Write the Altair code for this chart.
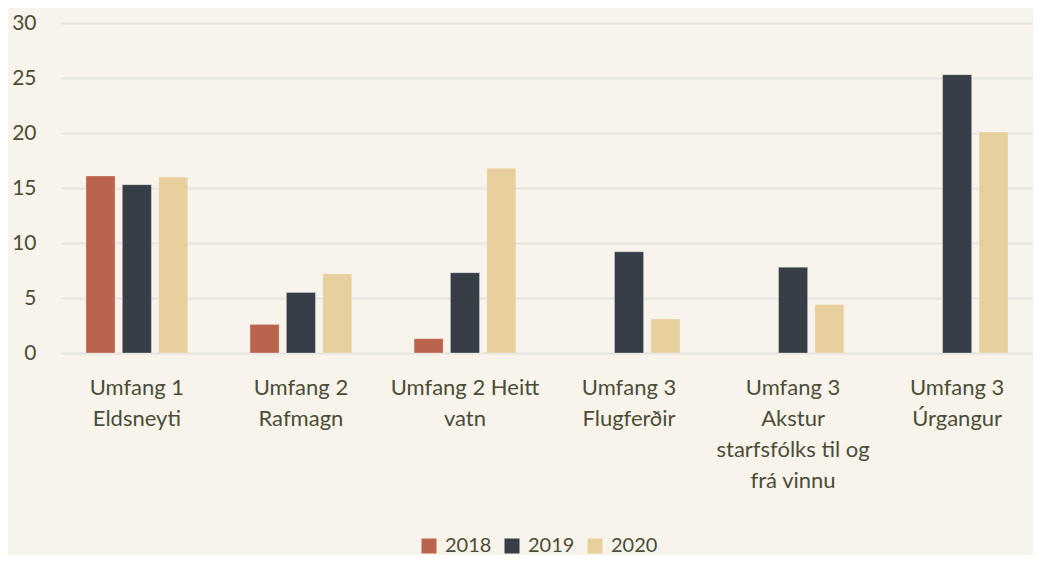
import altair as alt
import pandas as pd

categories = [
    "Umfang 1|Eldsneyti",
    "Umfang 2|Rafmagn",
    "Umfang 2 Heitt|vatn",
    "Umfang 3|Flugferðir",
    "Umfang 3|Akstur|starfsfólks til og|frá vinnu",
    "Umfang 3|Úrgangur",
]
years = ["2018", "2019", "2020"]
v2018 = [16.1, 2.6, 1.3, None, None, None]
v2019 = [15.3, 5.5, 7.3, 9.2, 7.8, 25.3]
v2020 = [16.0, 7.2, 16.8, 3.1, 4.4, 20.1]
colors = ["#bb644d", "#373e48", "#e8cf9e"]

rows = []
for yr, vals in zip(years, [v2018, v2019, v2020]):
    for c, v in zip(categories, vals):
        if v is not None:
            rows.append({"cat": c, "year": yr, "value": v})
df = pd.DataFrame(rows)

font = "Lato"
txt = "#4b4d36"

chart = alt.Chart(df).mark_bar(
    stroke="white", strokeOpacity=0.3, strokeWidth=1
).encode(
    x=alt.X("cat:N", sort=categories, title=None,
            scale=alt.Scale(paddingInner=0.335, paddingOuter=0.13),
            axis=alt.Axis(labelAngle=0, labelExpr="split(datum.label, '|')",
                          labelFontSize=22, labelFont=font, labelColor=txt,
                          labelLineHeight=31, labelPadding=24, ticks=False,
                          domain=False, grid=False, labelLimit=300)),
    xOffset=alt.XOffset("year:N", sort=years,
                        scale=alt.Scale(paddingInner=0.2, paddingOuter=0.1)),
    y=alt.Y("value:Q", title=None,
            scale=alt.Scale(domain=[0, 30], nice=False),
            axis=alt.Axis(values=[0, 5, 10, 15, 20, 25, 30], labelFontSize=21,
                          labelFont=font, labelColor=txt, labelPadding=25,
                          ticks=False, domain=False, gridColor="#e5e4e1",
                          gridWidth=2)),
    color=alt.Color("year:N", sort=years,
                    scale=alt.Scale(domain=years, range=colors),
                    legend=alt.Legend(title=None, orient="none", direction="horizontal",
                                      legendX=358, legendY=513,
                                      symbolType="square", symbolSize=225,
                                      symbolStrokeWidth=0, labelFontSize=20,
                                      labelFont=font, labelColor=txt,
                                      labelOffset=6, columnPadding=10)),
).properties(
    width=972, height=330,
    autosize=alt.AutoSizeParams(type="none"),
    padding={"left": 53, "top": 15, "right": 0, "bottom": 202},
    background="#f8f4ec",
).configure_view(stroke=None)

chart.save("out.html", embed_options={"renderer": "svg", "actions": False})
